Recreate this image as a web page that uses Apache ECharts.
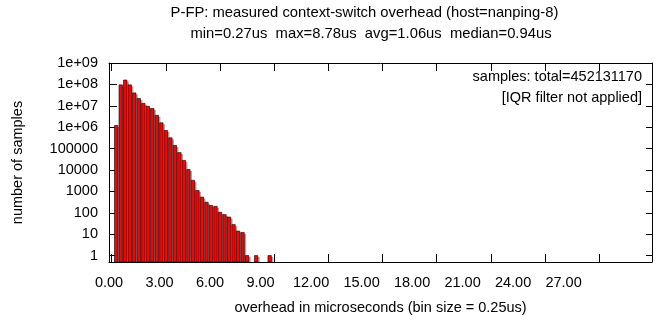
<!DOCTYPE html>
<html>
<head>
<meta charset="utf-8">
<script src="https://cdn.jsdelivr.net/npm/echarts@6/dist/echarts.min.js"></script>
<style>
  html, body { margin: 0; padding: 0; background: #fff; }
  #chart { width: 660px; height: 325px; }
</style>
</head>
<body>
<div id="chart"></div>
<script>
// histogram bins (us) and sample counts per bin
const binStart = [0.25, 0.5, 0.75, 1.0, 1.25, 1.5, 1.75, 2.0, 2.25, 2.5, 2.75, 3.0, 3.25, 3.5, 3.75, 4.0,
  4.25, 4.5, 4.75, 5.0, 5.25, 5.5, 5.75, 6.0, 6.25, 6.5, 6.75, 7.0, 7.25, 7.5, 8.0, 8.75]
const sampleCount = [1.2e6, 9.5e7, 1.6e8, 9.5e7, 4.0e7, 2.2e7, 1.3e7, 9.5e6, 7.5e6, 3.6e6, 1.6e6, 7.0e5, 3.2e5, 1.4e5, 6.5e4, 2.8e4,
  1.05e4, 3300, 1100, 540, 310, 220, 200, 105, 82, 63, 28, 14, 12, 1, 1, 1]
const xTickLabelMax = 27

const titleLine1 = 'P-FP: measured context-switch overhead (host=nanping-8)'
const titleLine2 = 'min=0.27us  max=8.78us  avg=1.06us  median=0.94us'
const keyLines = ['samples: total=452131170', '[IQR filter not applied]']

const FONT = 'Liberation Sans, Arial, Helvetica, sans-serif'
const FS = 14.5
const Y_MIN = 0.5
const TICK_COLOR = '#000'

const chart = echarts.init(document.getElementById('chart'))

// frame axes (bars + mirrored ticks), labels come from a separate axis
function frameAxis(pos) {
  return {
    type: 'value',
    position: pos,
    min: -0.15,
    max: 29.93,
    splitNumber: 10,
    axisLine: { show: true, onZero: false, lineStyle: { color: '#000', width: 1 } },
    axisTick: { show: true, inside: true, length: 8, lineStyle: { color: TICK_COLOR, width: 1 } },
    axisLabel: { show: false },
    splitLine: { show: false }
  }
}

function logAxis(pos, tickLen) {
  return {
    type: 'log',
    position: pos,
    min: Y_MIN,
    max: 1e9,
    splitNumber: 10,
    axisLine: { show: true, onZero: false, lineStyle: { color: '#000', width: 1 } },
    axisTick: { show: true, inside: true, length: tickLen, lineStyle: { color: TICK_COLOR, width: 1 } },
    splitLine: { show: false }
  }
}

const leftAxis = logAxis('left', 8)
leftAxis.axisLabel = {
  margin: 11,
  fontFamily: FONT,
  fontSize: FS,
  color: '#000',
  formatter: v => {
    const e = Math.round(Math.log10(v))
    return e >= 6 ? '1e+' + String(e).padStart(2, '0') : String(Math.pow(10, e))
  }
}
leftAxis.name = 'number of samples'
leftAxis.nameLocation = 'middle'
leftAxis.nameRotate = 90
leftAxis.nameGap = 84
leftAxis.nameTextStyle = { fontFamily: FONT, fontSize: FS, color: '#000' }

const rightAxis = logAxis('right', 6)
rightAxis.axisLabel = { show: false }

const titleText = { fontFamily: FONT, fontSize: 14.8, fontWeight: 'normal', color: '#000', lineHeight: 21 }

let options = {
  animation: false,
  textStyle: { fontFamily: FONT },
  title: [
    { text: titleLine1, left: 364.5, top: 2, padding: 0, textAlign: 'center', textStyle: titleText },
    { text: titleLine2, left: 371, top: 23, padding: 0, textAlign: 'center', textStyle: titleText },
    {
      text: keyLines.join('\n'),
      left: 642,
      top: 66,
      padding: 0,
      textAlign: 'right',
      textStyle: { fontFamily: FONT, fontSize: FS, fontWeight: 'normal', color: '#000', lineHeight: 21, align: 'right' }
    }
  ],
  grid: { left: 109, right: 8, top: 63, bottom: 63, containLabel: false },
  xAxis: [
    frameAxis('bottom'),
    frameAxis('top'),
    {
      type: 'value',
      position: 'bottom',
      min: 0,
      max: 32.25,
      interval: 3,
      axisLine: { show: false },
      axisTick: { show: false },
      splitLine: { show: false },
      axisLabel: {
        margin: 13,
        fontFamily: FONT,
        fontSize: FS,
        color: '#000',
        formatter: v => (v > xTickLabelMax ? '' : v.toFixed(2))
      },
      name: 'overhead in microseconds (bin size = 0.25us)',
      nameLocation: 'middle',
      nameGap: 38,
      nameTextStyle: { fontFamily: FONT, fontSize: FS, color: '#000' }
    }
  ],
  yAxis: [leftAxis, rightAxis],
  series: [
    {
      type: 'custom',
      xAxisIndex: 0,
      yAxisIndex: 0,
      data: binStart.map((b, i) => [b, sampleCount[i]]),
      encode: { x: 0, y: 1 },
      renderItem(params, api) {
        const top = api.coord([api.value(0), api.value(1)])
        const base = api.coord([api.value(0), Y_MIN])
        const h = base[1] - top[1]
        return {
          type: 'group',
          children: [
            // grey shadow
            { type: 'rect', shape: { x: top[0] + 1.2, y: top[1] + 1.5, width: 2.4, height: h - 1.5 }, style: { fill: '#a8a8a8' } },
            // red bar with black border
            { type: 'rect', shape: { x: top[0] - 1.7, y: top[1], width: 3.4, height: h }, style: { fill: '#ff0000', stroke: '#000', lineWidth: 0.6 } }
          ]
        }
      }
    }
  ]
}

chart.setOption(options)
</script>
</body>
</html>
